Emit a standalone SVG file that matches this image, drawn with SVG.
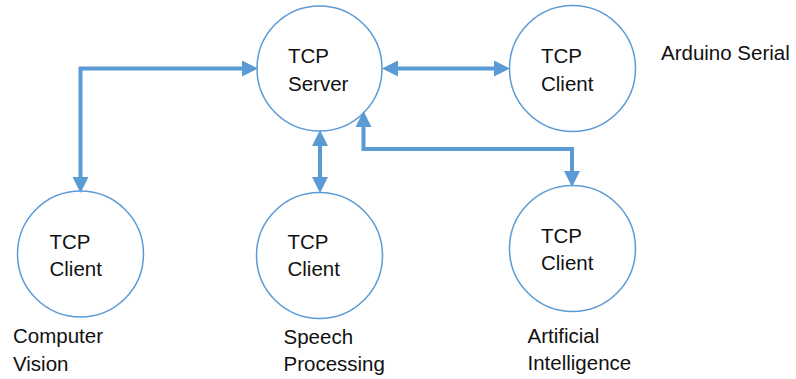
<svg xmlns="http://www.w3.org/2000/svg" width="796" height="379" viewBox="0 0 796 379">
<style>
.node circle{fill:#fff;stroke:#5B9BD5;stroke-width:1.5}
text{font-family:"Liberation Sans",Arial,sans-serif;font-size:20.5px;fill:#111}
.conn path{fill:none;stroke:#5B9BD5;stroke-width:4;marker-start:url(#ah);marker-end:url(#ah)}
</style>
<defs>
<marker id="ah" markerUnits="userSpaceOnUse" markerWidth="16" markerHeight="16" refX="0" refY="8" orient="auto-start-reverse">
<path d="M0,0 L16,8 L0,16 z" fill="#5B9BD5"/>
</marker>
</defs>
<rect width="796" height="379" fill="#fff"/>
<g id="server" class="node">
<circle cx="319.5" cy="68.5" r="62.5"/>
<text x="288" y="62.5">TCP</text>
<text x="288" y="90.5">Server</text>
</g>
<g id="arduino" class="node">
<circle cx="572.5" cy="68.5" r="63"/>
<text x="541" y="62.5">TCP</text>
<text x="541" y="90.5">Client</text>
</g>
<text id="label-arduino" x="661" y="60">Arduino Serial</text>
<g id="vision" class="node">
<circle cx="80.5" cy="254" r="63"/>
<text x="49.5" y="249">TCP</text>
<text x="49.5" y="276">Client</text>
</g>
<g id="label-vision">
<text x="13" y="342.5">Computer</text>
<text x="13" y="370.5">Vision</text>
</g>
<g id="speech" class="node">
<circle cx="319.5" cy="255.5" r="63"/>
<text x="287.5" y="249">TCP</text>
<text x="287.5" y="276">Client</text>
</g>
<g id="label-speech">
<text x="283.5" y="344">Speech</text>
<text x="283.5" y="371">Processing</text>
</g>
<g id="ai" class="node">
<circle cx="572.5" cy="248.5" r="63"/>
<text x="541" y="242.5">TCP</text>
<text x="541" y="270">Client</text>
</g>
<g id="label-ai">
<text x="527.5" y="342.5">Artificial</text>
<text x="527.5" y="369.5">Intelligence</text>
</g>
<g id="connectors" class="conn">
<path d="M242 68.5 H80.5 V177"/>
<path d="M320 146 V177"/>
<path d="M398 68.5 H494"/>
<path d="M363.5 127 V149 H572 V171"/>
</g>
</svg>
